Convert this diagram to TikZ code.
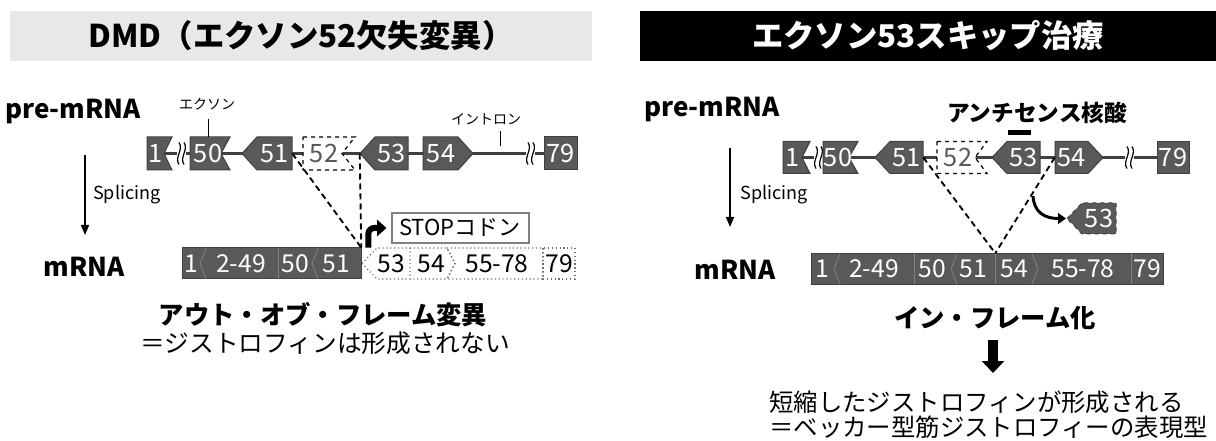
\documentclass[tikz,border=0pt]{standalone}
\usepackage{fontspec}
\setmainfont{Noto Sans CJK JP}
\usetikzlibrary{positioning, arrows.meta}

\definecolor{exgray}{RGB}{89,89,89}
\definecolor{exline}{RGB}{64,64,64}
\definecolor{headgray}{RGB}{232,232,232}
\definecolor{sepgray}{RGB}{128,128,128}
\definecolor{dotgray}{RGB}{110,110,110}

\begin{document}
\begin{tikzpicture}[x=0.75pt, y=-0.75pt]

\tikzstyle{arrow} = [line width=1.2pt, -{Triangle[length=7.5pt, width=6pt]}]
\tikzset{exon/.style = {fill=exgray, draw=exline, line width=0.75pt}, }
\tikzset{gone/.style = {fill=white, draw=black, dashed, line width=0.9pt}, }
\tikzset{dotseg/.style = {draw=dotgray, dotted, line width=0.9pt}, }
\tikzset{sep/.style = {draw=sepgray, line width=0.6pt}, }
\tikzset{intron/.style = {draw=exline, line width=2.25pt}, }
\tikzset{wave/.style = {draw=black, line width=0.9pt}, }
\tikzset{num/.style = {text=white, inner sep=0pt, minimum height=24.75pt, font=\fontsize{19}{21}\selectfont}, }
\tikzset{mnum/.style = {num, minimum height=23.25pt, font=\fontsize{18.5}{20}\selectfont}, }
\tikzset{cut/.style = {draw=black, line width=1.4pt, dash pattern=on 4.5pt off 3pt}, }
\tikzset{tickline/.style = {draw=black, line width=0.6pt}, }
\tikzset{headtxt/.style = {inner sep=0pt, minimum height=37.5pt, font=\bfseries\fontsize{23.5}{26}\selectfont}, }
\tikzset{rowname/.style = {inner sep=0pt, font=\bfseries\fontsize{19.5}{22}\selectfont}, }
\tikzset{small/.style = {inner sep=0pt, font=\fontsize{10.5}{12}\selectfont}, }
\tikzset{bigtxt/.style = {inner sep=0pt, font=\fontsize{18.5}{21}\selectfont}, }

\useasboundingbox (0,0) rectangle (1216,441);

% headers
\node[headtxt, fill=headgray, minimum width=436.5pt] (hdL) at (301,36) {DMD（エクソン52欠失変異）};
\node[headtxt, fill=black, text=white, minimum width=432pt] (hdR) at (928,36) {エクソン53スキップ治療};

% ---------- left: exon 52 deletion ----------
\node[rowname] (Lpre) at (73,112) {pre-mRNA};
\node[rowname] (Lmrna) at (84,267) {mRNA};
\coordinate (Lsp1) at (85,155);
\coordinate (Lsp2) at (85,235);
\draw[arrow] (Lsp1) -- (Lsp2);
\node[inner sep=0pt, font=\fontsize{13.5}{15}\selectfont, anchor=west] (Lsplice) at (93,195) {Splicing};

\draw[intron] (164,153.5) -- (544,153.5);
\foreach \x/\y in {179/153.5, 528/153.5} {
  \fill[white] (\x-2,\y-12) rectangle (\x+7,\y+12);
  \foreach \d in {0,5}
    \draw[wave] (\x+\d,\y-11) .. controls (\x+\d+5,\y-4) and (\x+\d-5,\y+4) .. (\x+\d,\y+11);
}
\draw[exon] (147,137) -- (172,137) -- (164,153.5) -- (172,170) -- (147,170) -- cycle;
\draw[exon] (190,137) -- (230,137) -- (221,153.5) -- (230,170) -- (190,170) -- cycle;
\draw[exon] (242,153.5) -- (257,137) -- (292,137) -- (292,170) -- (257,170) -- cycle;
\draw[gone] (303,137) -- (355,137) -- (342,153.5) -- (355,170) -- (303,170) -- cycle;
\draw[exon] (360,153.5) -- (375,137) -- (408,137) -- (408,170) -- (375,170) -- cycle;
\draw[exon] (423,137) -- (458,137) -- (473,153.5) -- (458,170) -- (423,170) -- cycle;
\draw[exon] (544,137) rectangle (577,170);
\node[num] (L1) at (156,153.5) {1};
\node[num, minimum width=30pt] (L50) at (208,153.5) {50};
\node[num, minimum width=26.25pt] (L51) at (274.5,153.5) {51};
\node[num, text=exgray] (L52) at (324,153.5) {52};
\node[num, minimum width=24.75pt] (L53) at (391.5,153.5) {53};
\node[num] (L54) at (441,153.5) {54};
\node[num] (L79) at (560.5,153.5) {79};

\node[small] (exlab) at (207,104) {エクソン};
\draw[tickline] (L50.north) -- ++(0,-18);
\node[small] (inlab) at (486,119) {イントロン};
\coordinate (intick) at (500,146);
\draw[tickline] (intick) -- ++(0,-15);

% mRNA, out of frame
\draw[exon] (182,248) rectangle (361,279);
\draw[sep] (206,248) -- (200,263.5) -- (206,279);
\draw[sep] (278,248) -- (278,279);
\draw[sep] (318,248) -- (312,263.5) -- (318,279);
\node[mnum] (Lm1) at (191,263.5) {1};
\node[mnum] (Lm2) at (241,263.5) {2-49};
\node[mnum] (Lm50) at (295,263.5) {50};
\node[mnum, minimum width=36.75pt] (Lm51) at (336.5,263.5) {51};

\draw[dotseg] (362,263.5) -- (377,248) -- (410,248) -- (410,279) -- (377,279) -- cycle;
\draw[dotseg] (410,248) -- (447,248) -- (455,263.5) -- (447,279) -- (410,279);
\draw[dotseg] (447,248) -- (543,248) -- (543,279) -- (447,279) -- (455,263.5) -- cycle;
\draw[dotseg] (543,248) rectangle (575,279);
\node[mnum, text=black] (Ld53) at (391,263.5) {53};
\node[mnum, text=black] (Ld54) at (431,263.5) {54};
\node[mnum, text=black] (Ld55) at (497,263.5) {55-78};
\node[mnum, text=black] (Ld79) at (559,263.5) {79};

\draw[cut] (L51.east) -- (Lm51.north east);
\draw[cut] ([xshift=-11.25pt]L53.west) -- (Lm51.north east);

\node[draw=gray, line width=1.5pt, fill=white, inner sep=0pt, minimum width=102.75pt, minimum height=22.5pt,
      font=\fontsize{16.5}{18}\selectfont] (stop) at (460,228) {STOPコドン};
\draw[line width=4.5pt, rounded corners=4.5pt, -{Triangle[length=7pt, width=12pt]}, shorten >=3pt]
  ([xshift=5.25pt]Lm51.north east) |- (stop.west);

\node[inner sep=0pt, font=\bfseries\fontsize{19}{22}\selectfont] (outframe) at (323,315) {アウト・オブ・フレーム変異};
\node[bigtxt] (nodys) at (325,343) {＝ジストロフィンは形成されない};

% ---------- right: exon 53 skipping ----------
\node[rowname] (Rpre) at (712,110) {pre-mRNA};
\node[rowname] (Rmrna) at (735,270) {mRNA};
\coordinate (Rsp1) at (730,148);
\coordinate (Rsp2) at (730,227);
\draw[arrow] (Rsp1) -- (Rsp2);
\node[inner sep=0pt, font=\fontsize{13.5}{15}\selectfont, anchor=west] (Rsplice) at (740,195) {Splicing};

\draw[intron] (802,157.5) -- (1157,157.5);
\foreach \x/\y in {816/157.5, 1127/157.5} {
  \fill[white] (\x-2,\y-12) rectangle (\x+7,\y+12);
  \foreach \d in {0,5}
    \draw[wave] (\x+\d,\y-11) .. controls (\x+\d+5,\y-4) and (\x+\d-5,\y+4) .. (\x+\d,\y+11);
}
\draw[exon] (783,141.5) -- (810,141.5) -- (802,157.5) -- (810,173.5) -- (783,173.5) -- cycle;
\draw[exon] (823,141.5) -- (858,141.5) -- (849,157.5) -- (858,173.5) -- (823,173.5) -- cycle;
\draw[exon] (875,157.5) -- (890,141.5) -- (923,141.5) -- (923,173.5) -- (890,173.5) -- cycle;
\draw[gone] (937,141.5) -- (987,141.5) -- (975,157.5) -- (987,173.5) -- (937,173.5) -- cycle;
\draw[exon] (992,157.5) -- (1007,141.5) -- (1040,141.5) -- (1040,173.5) -- (1007,173.5) -- cycle;
\draw[exon] (1055,141.5) -- (1088,141.5) -- (1103,157.5) -- (1088,173.5) -- (1055,173.5) -- cycle;
\draw[exon] (1157,141.5) rectangle (1189,173.5);
\node[num] (R1) at (793,157.5) {1};
\node[num] (R50) at (838,157.5) {50};
\node[num, minimum width=24.75pt] (R51) at (906.5,157.5) {51};
\node[num, text=exgray] (R52) at (958,157.5) {52};
\node[num, minimum width=24.75pt] (R53) at (1023.5,157.5) {53};
\node[num, minimum width=24.75pt] (R54) at (1071.5,157.5) {54};
\node[num] (R79) at (1173,157.5) {79};

\node[inner sep=0pt, font=\bfseries\fontsize{17}{19}\selectfont] (asotxt) at (1037,113) {アンチセンス核酸};
\node[fill=black, inner sep=0pt, minimum width=17.25pt, minimum height=3.75pt] (aso) at (1019.5,133) {};

% skipped exon 53
\draw[exon, dashed] (1067,218.5) -- (1082,203) -- (1116,203) -- (1116,234) -- (1082,234) -- cycle;
\node[num] (F53) at (1099,218.5) {53};
\coordinate (F53tip) at (1066,218.5);
\coordinate (cut53) at (1033,196);
\draw[line width=2.2pt, -{Triangle[length=6pt, width=8pt]}] (cut53) .. controls (1034,212) and (1044,218.5) .. (F53tip);

% mRNA, in frame
\draw[exon] (811,253.5) rectangle (1163,284.5);
\draw[sep] (840,253.5) -- (834,269) -- (840,284.5);
\draw[sep] (914,253.5) -- (914,284.5);
\draw[sep] (957,253.5) -- (951,269) -- (957,284.5);
\draw[sep] (995,253.5) -- (995,284.5);
\draw[sep] (1032,253.5) -- (1038,269) -- (1032,284.5);
\draw[sep] (1131,253.5) -- (1131,284.5);
\node[mnum] (Rm1) at (822,269) {1};
\node[mnum] (Rm2) at (874,269) {2-49};
\node[mnum] (Rm50) at (932,269) {50};
\node[mnum, minimum width=33pt] (Rm51) at (973,269) {51};
\node[mnum] (Rm54) at (1014,269) {54};
\node[mnum] (Rm55) at (1083,269) {55-78};
\node[mnum] (Rm79) at (1147,269) {79};

\draw[cut] (R51.east) -- (Rm51.north east);
\draw[cut] (R54.west) -- (Rm51.north east);

\node[inner sep=0pt, font=\bfseries\fontsize{19}{22}\selectfont] (inframe) at (995,318) {イン・フレーム化};
\coordinate (bigtop) at (993,340);
\coordinate (bigtip) at (993,373);
\draw[line width=8pt, -{Triangle[length=9pt, width=16.5pt]}] (bigtop) -- (bigtip);
\node[bigtxt, anchor=west, font=\fontsize{18.3}{21}\selectfont] (shorter) at (769,402) {短縮したジストロフィンが形成される};
\node[bigtxt, anchor=west, font=\fontsize{18.3}{21}\selectfont] (becker) at (769,427) {＝ベッカー型筋ジストロフィーの表現型};

\end{tikzpicture}
\end{document}
